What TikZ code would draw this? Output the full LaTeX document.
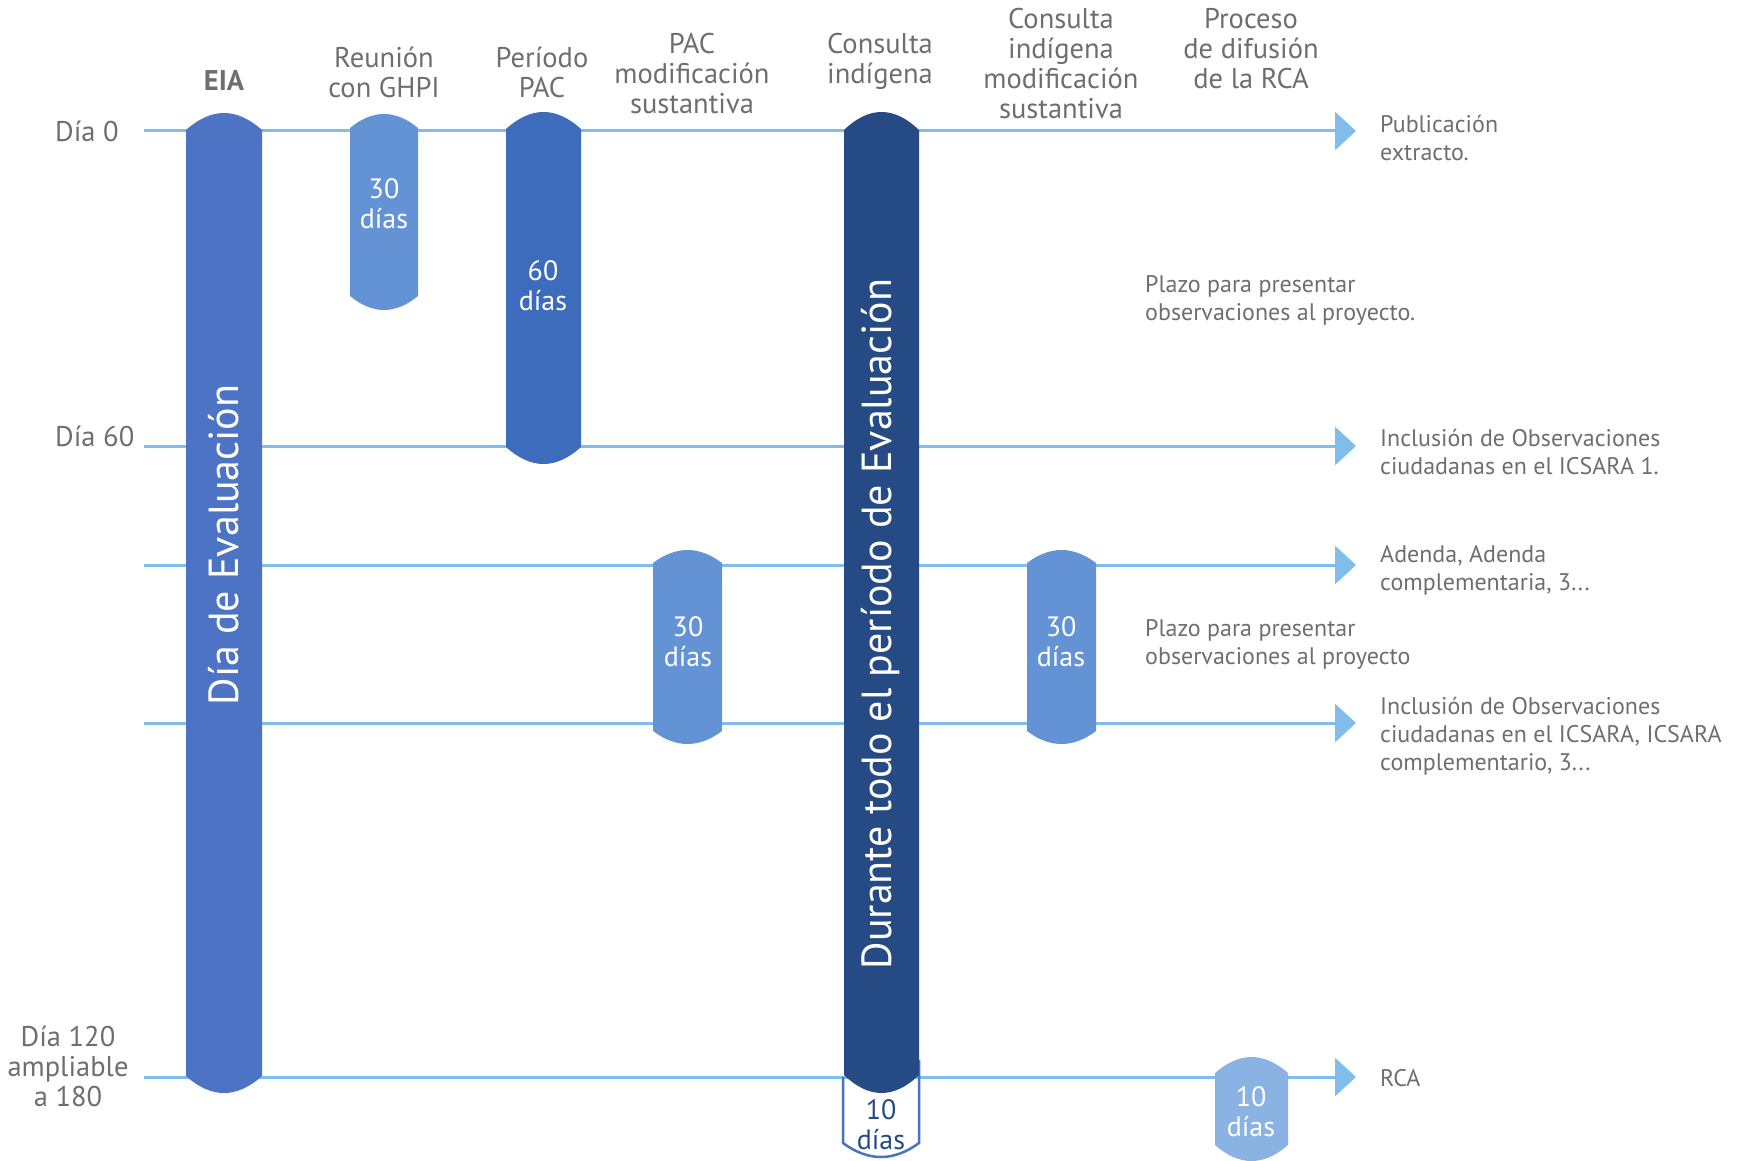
\documentclass[tikz,border=0pt]{standalone}
\usepackage{fontspec}
\setmainfont{PT Sans}
\usetikzlibrary{arrows.meta}
\definecolor{lineblue}{HTML}{80BDEA}
\definecolor{eiablue}{HTML}{4D74C4}
\definecolor{midblue}{HTML}{6493D5}
\definecolor{pacblue}{HTML}{3D6CBD}
\definecolor{navy}{HTML}{264B84}
\definecolor{rcablue}{HTML}{8AB2E2}
\definecolor{outl}{HTML}{4A72C4}
\definecolor{txtgrey}{HTML}{6D6E71}
\newcommand\capsule[6]{%
 \fill[#1] (#2,#4) .. controls ({#2+(#3-#2)/3},{#4-1.333*#6}) and ({#3-(#3-#2)/3},{#4-1.333*#6}) .. (#3,#4) -- (#3,#5) .. controls ({#3-(#3-#2)/3},{#5+1.333*#6}) and ({#2+(#3-#2)/3},{#5+1.333*#6}) .. (#2,#5) -- cycle;}
\tikzset{
 hline/.style={draw=lineblue, line width=3pt, -{Triangle[length=21pt,width=38pt]}},
 hdr/.style={text=txtgrey, font=\fontsize{28.5}{30}\selectfont, align=center, inner sep=0pt},
 lbl/.style={text=txtgrey, font=\fontsize{28.5}{30}\selectfont, align=center, inner sep=0pt},
 note/.style={text=txtgrey, font=\fontsize{24}{28}\selectfont, align=left, anchor=west, inner sep=0pt},
 bartxt/.style={text=white, font=\fontsize{28}{30}\selectfont, align=center, inner sep=0pt},
 bigtxt/.style={text=white, font=\fontsize{42}{44}\selectfont, rotate=90, inner sep=0pt}
}
\begin{document}
\begin{tikzpicture}[x=1pt,y=-1pt]
\useasboundingbox (0,0) rectangle (1739,1161);
% timeline lines
\coordinate (s1) at (144,131);  \coordinate (e1) at (1356,131);
\coordinate (s2) at (144,446);  \coordinate (e2) at (1356,446);
\coordinate (s3) at (144,565);  \coordinate (e3) at (1356,565);
\coordinate (s4) at (144,723);  \coordinate (e4) at (1356,723);
\coordinate (s5) at (144,1077); \coordinate (e5) at (1356,1077);
\draw[hline] (s1) -- (e1);
\draw[hline] (s2) -- (e2);
\draw[hline] (s3) -- (e3);
\draw[hline] (s4) -- (e4);
\draw[hline] (s5) -- (e5);
% outline of the 10 dias box
\draw[outl, line width=2.5pt] (919,1060) -- (919,1143) .. controls ({919-76/3},{1143+1.333*14}) and ({843+76/3},{1143+1.333*14}) .. (843,1143) -- (843,1077);
% bars
\capsule{eiablue}{186}{262}{130}{1076}{17}
\capsule{midblue}{350}{418}{128}{296}{14}
\capsule{pacblue}{506}{581}{129}{447}{17}
\capsule{midblue}{653}{722}{563}{731}{13}
\capsule{navy}{844}{919}{130}{1075}{18}
\capsule{midblue}{1027}{1096}{563}{731}{13}
\capsule{rcablue}{1215}{1288}{1073}{1145}{16}
% headers
\node[hdr, font=\fontsize{28.5}{30}\selectfont\bfseries] (hEIA) at (224,80) {EIA};
\node[hdr] (hGHPI) at (384,72) {Reunión\\con GHPI};
\node[hdr] (hPAC) at (542,72) {Período\\PAC};
\node[hdr] (hPACm) at (692,74) {PAC\\modificación\\sustantiva};
\node[hdr] (hCI) at (880,61) {Consulta\\indígena};
\node[hdr] (hCIm) at (1061,64) {Consulta\\indígena\\modificación\\sustantiva};
\node[hdr] (hRCA) at (1251,49) {Proceso\\de difusión\\de la RCA};
% left labels
\node[lbl, anchor=west] (d0) at (55,131) {Día 0};
\node[lbl, anchor=west] (d60) at (55,436) {Día 60};
\node[lbl] (d120) at (68,1066) {Día 120\\ampliable\\a 180};
% bar texts
\node[bartxt] (tGHPI) at (384,204) {30\\días};
\node[bartxt] (tPAC) at (543,286) {60\\días};
\node[bartxt] (tPACm) at (688,642) {30\\días};
\node[bartxt] (tCIm) at (1061,642) {30\\días};
\node[bartxt, text=navy] (tCI) at (881,1125) {10\\días};
\node[bartxt] (tRCA) at (1251,1112) {10\\días};
\node[bigtxt] (tEIA) at (224,545) {Día de Evaluación};
\node[bigtxt] (tDur) at (881,624) {Durante todo el período de Evaluación};
% notes
\node[note] (n1) at (1380,138) {Publicación\\extracto.};
\node[note] (n2) at (1145,300) {Plazo para presentar\\observaciones al proyecto.};
\node[note] (n3) at (1380,452) {Inclusión de Observaciones\\ciudadanas en el ICSARA 1.};
\node[note] (n4) at (1380,570) {Adenda, Adenda\\complementaria, 3...};
\node[note] (n5) at (1145,644) {Plazo para presentar\\observaciones al proyecto};
\node[note] (n6) at (1380,736) {Inclusión de Observaciones\\ciudadanas en el ICSARA, ICSARA\\complementario, 3...};
\node[note] (n7) at (1380,1078) {RCA};
\end{tikzpicture}
\end{document}
